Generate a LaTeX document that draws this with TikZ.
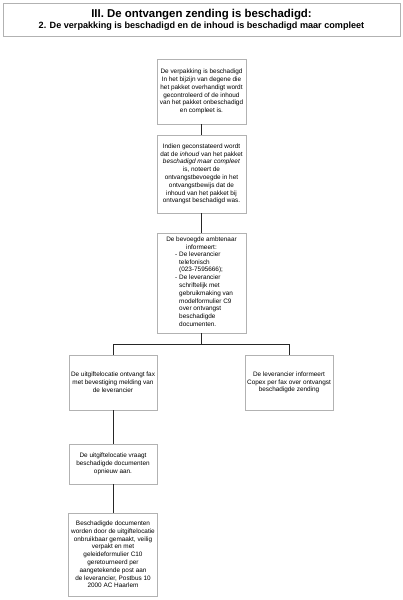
\documentclass[tikz,border=0pt]{standalone}
\usepackage{fontspec}
\setmainfont{Liberation Sans}
\begin{document}
\begin{tikzpicture}[x=1pt,y=-1pt,
  box/.style={draw=black!30, line width=0.6pt, inner sep=0pt, align=center, font=\fontsize{6.4}{7.8}\selectfont},
  conn/.style={draw=black!85, line width=0.7pt}]
\useasboundingbox (0,0) rectangle (403,600);
\node[draw=black!30, line width=0.6pt, minimum width=397pt, minimum height=33pt, inner sep=0pt] (hdr) at (201.5,20) {};
\node[font=\fontsize{11.4}{12}\selectfont\bfseries, inner sep=0pt] (t1) at (201.5,14.5) {III. De ontvangen zending is beschadigd:};
\node[font=\fontsize{9.1}{10}\selectfont\bfseries, inner sep=0pt] (t2) at (201.5,26.5) {2. De verpakking is beschadigd en de inhoud is beschadigd maar compleet};

\node[box, minimum width=89pt, minimum height=65pt] (b1) at (201.5,91.5) {De verpakking is beschadigd\\In het bijzijn van degene die\\het pakket overhandigt wordt\\gecontroleerd of de inhoud\\van het pakket onbeschadigd\\en compleet is.};
\node[box, minimum width=89pt, minimum height=78pt] (b2) at (201.5,174) {Indien geconstateerd wordt\\dat de \emph{inhoud} van het pakket\\\emph{beschadigd maar compleet}\\is, noteert de\\ontvangstbevoegde in het\\ontvangstbewijs dat de\\inhoud van het pakket bij\\ontvangst beschadigd was.};
\node[box, minimum width=89pt, minimum height=100pt] (b3) at (201.5,283) {De bevoegde ambtenaar\\informeert:\\\hspace*{5pt}\begin{tabular}{@{}l@{\hspace{2pt}}l@{}}
-&De leverancier\\
&telefonisch\\
&(023-7595666);\\
-&De leverancier\\
&schriftelijk met\\
&gebruikmaking van\\
&modelformulier C9\\
&over ontvangst\\
&beschadigde\\
&documenten.
\end{tabular}};
\node[box, minimum width=88pt, minimum height=55pt] (b4) at (113,382.5) {De uitgiftelocatie ontvangt fax\\met bevestiging melding van\\de leverancier};
\node[box, minimum width=88pt, minimum height=55pt] (b5) at (289,382.5) {De leverancier informeert\\Copex per fax over ontvangst\\beschadigde zending};
\node[box, minimum width=88pt, minimum height=40pt] (b6) at (113,464) {De uitgiftelocatie vraagt\\beschadigde documenten\\opnieuw aan.};
\node[box, minimum width=89pt, minimum height=83pt] (b7) at (113,554.5) {Beschadigde documenten\\worden door de uitgiftelocatie\\onbruikbaar gemaakt, veilig\\verpakt en met\\geleideformulier C10\\geretourneerd per\\aangetekende post aan\\de leverancier, Postbus 10\\2000 AC Haarlem};

\coordinate (split) at (201.5,344);
\draw[conn] (b1.south) -- (b2.north);
\draw[conn] (b2.south) -- (b3.north);
\draw[conn] (b3.south) -- (split);
\draw[conn] (split) -| (b4.north);
\draw[conn] (split) -| (b5.north);
\draw[conn] (b4.south) -- (b6.north);
\draw[conn] (b6.south) -- (b7.north);
\end{tikzpicture}
\end{document}
